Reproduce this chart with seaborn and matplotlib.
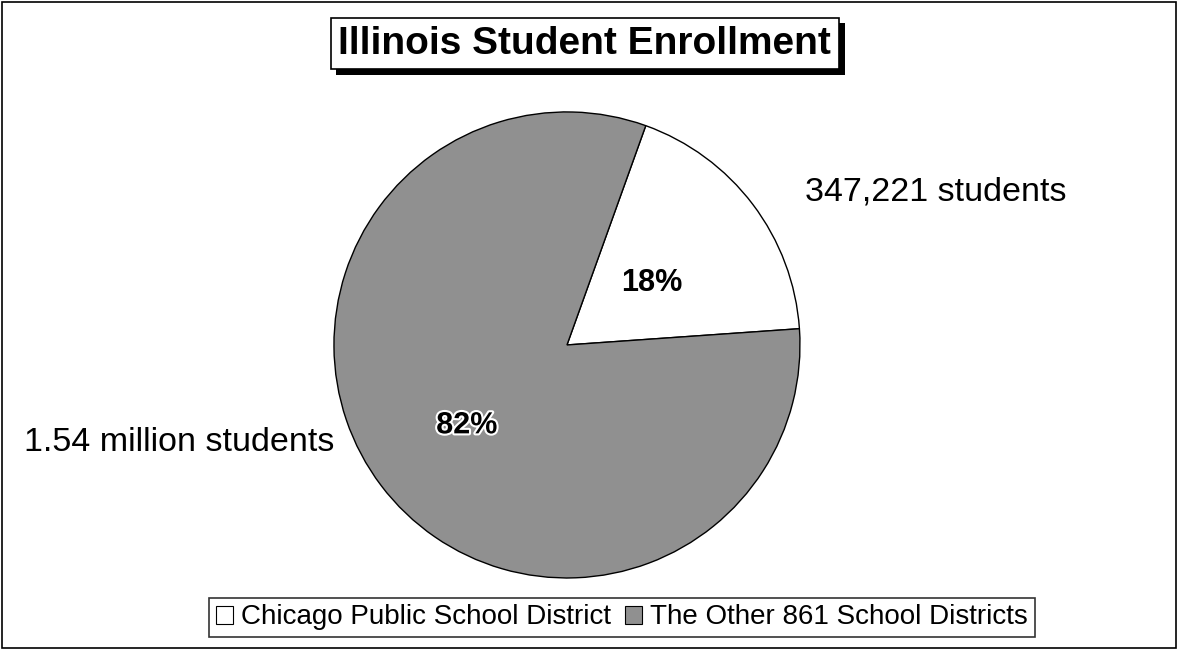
import numpy as np
import pandas as pd
import matplotlib
matplotlib.use("Agg")
import matplotlib.pyplot as plt
import matplotlib.patheffects as pe
import seaborn as sns
from matplotlib.patches import Patch, Rectangle

# data
districts = ["Chicago Public School District", "The Other 861 School Districts"]
students = [347221, 1540000]
count_labels = ["347,221 students", "1.54 million students"]
slice_colors = ["#ffffff", "#909090"]

data = pd.DataFrame({"district": districts, "students": students})

sns.set_style("white")
plt.rcParams["font.family"] = ["Liberation Sans", "DejaVu Sans"]
plt.rcParams["text.color"] = "black"

fig = plt.figure(figsize=(11.78, 6.5), dpi=100)
fig.patch.set_facecolor("white")

# pie area: centre ~ (567, 345) px, radius ~233 px
ax = fig.add_axes([0.2835, 0.1108, 0.3956, 0.717])
wedges, texts, autotexts = ax.pie(
    data["students"], colors=slice_colors, startangle=4, counterclock=True,
    autopct=lambda p: f"{p:.0f}%", pctdistance=0.5,
    wedgeprops=dict(edgecolor="black", linewidth=1.0),
    textprops=dict(fontsize=22, fontweight="bold", color="black"))
ax.set_xlim(-1, 1)
ax.set_ylim(-1, 1)
ax.set_aspect("equal")
ax.axis("off")

autotexts[0].set_position((0.365, 0.265))
autotexts[1].set_position((-0.43, -0.345))
autotexts[1].set_path_effects([pe.withStroke(linewidth=3, foreground="white")])

ax.text(1.02, 0.655, count_labels[0], fontsize=24.5, ha="left", va="center",
        color="black")
ax.text(-1.0, -0.42, count_labels[1], fontsize=24.5, ha="right", va="center",
        color="black")

# title box with drop shadow
title = fig.text(0.4965, 0.933, "Illinois Student Enrollment", fontsize=28,
                 fontweight="bold", ha="center", va="center", color="black",
                 bbox=dict(boxstyle="square,pad=0.2", facecolor="white",
                           edgecolor="black", linewidth=1.2))
title.get_bbox_patch().set_path_effects([
    pe.SimplePatchShadow(offset=(4, -4), shadow_rgbFace="black", alpha=1),
    pe.Normal()])

# legend
handles = [Patch(facecolor=c, edgecolor="black", linewidth=0.8, label=d)
           for c, d in zip(slice_colors, districts)]
leg = fig.legend(handles=handles, loc="center", bbox_to_anchor=(0.528, 0.05),
                 ncol=2, fontsize=20, frameon=True, fancybox=False,
                 handlelength=0.6, handleheight=0.6, handletextpad=0.3,
                 columnspacing=0.5, borderpad=0.25, borderaxespad=0)
leg.get_frame().set_edgecolor("black")
leg.get_frame().set_linewidth(1.2)
for t in leg.get_texts():
    t.set_color("black")

# outer frame
fig.patches.append(Rectangle((0.002, 0.003), 0.996, 0.994, transform=fig.transFigure,
                             fill=False, edgecolor="black", linewidth=1.2))

fig.savefig("out.png", dpi=100)
